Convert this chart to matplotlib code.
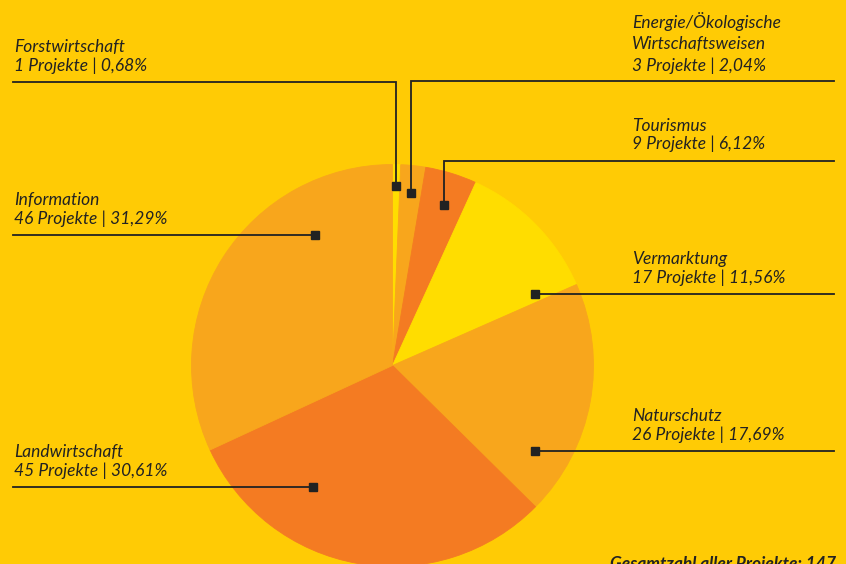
import matplotlib.pyplot as plt

# data
labels = ["Forstwirtschaft", "Energie/Ökologische\nWirtschaftsweisen", "Tourismus",
          "Vermarktung", "Naturschutz", "Landwirtschaft", "Information"]
projects = [1, 3, 9, 17, 26, 45, 46]
percent_text = ["0,68", "2,04", "6,12", "11,56", "17,69", "30,61", "31,29"]
# slice sizes as actually drawn in the original (in %)
drawn_share = [0.65, 2.0, 4.15, 11.6, 19.0, 30.7, 31.9]
total_projects = 147

# colours
bg = "#FFCB05"
yellow = "#FFDD00"
light_orange = "#F8A61C"
dark_orange = "#F47B22"
slice_colors = [yellow, light_orange, dark_orange, yellow, light_orange, dark_orange, light_orange]
ink = "#222222"

# layout in pixels (figure is 846 x 564)
W, H = 846, 564
center = (392.5, 365.5)
radius = 201
# callout: marker point, line y, line end x, text x, text baseline offset, line spacing
callouts = [
    dict(marker=(396, 186), line_y=81.5, end_x=13, text_x=14, dy=11, ls=1.18),
    dict(marker=(411, 193), line_y=80.5, end_x=834, text_x=632, dy=9.5, ls=1.4),
    dict(marker=(444, 205), line_y=160.5, end_x=834, text_x=632, dy=11, ls=1.18),
    dict(marker=(535, 294), line_y=294, end_x=834, text_x=632, dy=11, ls=1.18),
    dict(marker=(535, 451), line_y=451, end_x=834, text_x=632, dy=11, ls=1.18),
    dict(marker=(313, 487), line_y=487, end_x=13, text_x=14, dy=11, ls=1.18),
    dict(marker=(315, 235), line_y=235, end_x=13, text_x=14, dy=11, ls=1.18),
]

plt.rcParams['font.family'] = ['Lato', 'DejaVu Sans']

fig = plt.figure(figsize=(W / 100, H / 100), dpi=100, facecolor=bg)
ax = fig.add_axes([0, 0, 1, 1])
ax.set_facecolor(bg)

# y axis is inverted below, so counterclock=True runs clockwise on screen
wedges, _ = ax.pie(drawn_share, colors=slice_colors, startangle=-90,
                   counterclock=True, center=center, radius=radius,
                   frame=True)
for w in wedges:
    w.set_edgecolor(w.get_facecolor())
    w.set_linewidth(0.6)

ax.set_xlim(0, W)
ax.set_ylim(H, 0)
ax.set_aspect('equal')
ax.axis('off')

for lab, n, pct, c in zip(labels, projects, percent_text, callouts):
    mx, my = c["marker"]
    ly = c["line_y"]
    # leader line: vertical from marker up to line_y, then horizontal
    ax.plot([mx, mx, c["end_x"]], [my, ly, ly], color=ink, lw=1.3,
            solid_joinstyle='miter', zorder=3)
    ax.plot(mx, my, marker='s', ms=5.2, color=ink, zorder=4)

    text = f"{lab}\n{n} Projekte | {pct}%"
    ax.text(c["text_x"], ly - c["dy"], text, ha='left', va='baseline',
            fontsize=12.5, style='italic', color=ink, linespacing=c["ls"])

ax.text(610, 556, f"Gesamtzahl aller Projekte: {total_projects}", ha='left', va='top',
        fontsize=12.5, style='italic', fontweight='bold', color=ink)

fig.savefig("out.png", dpi=100, facecolor=bg)
